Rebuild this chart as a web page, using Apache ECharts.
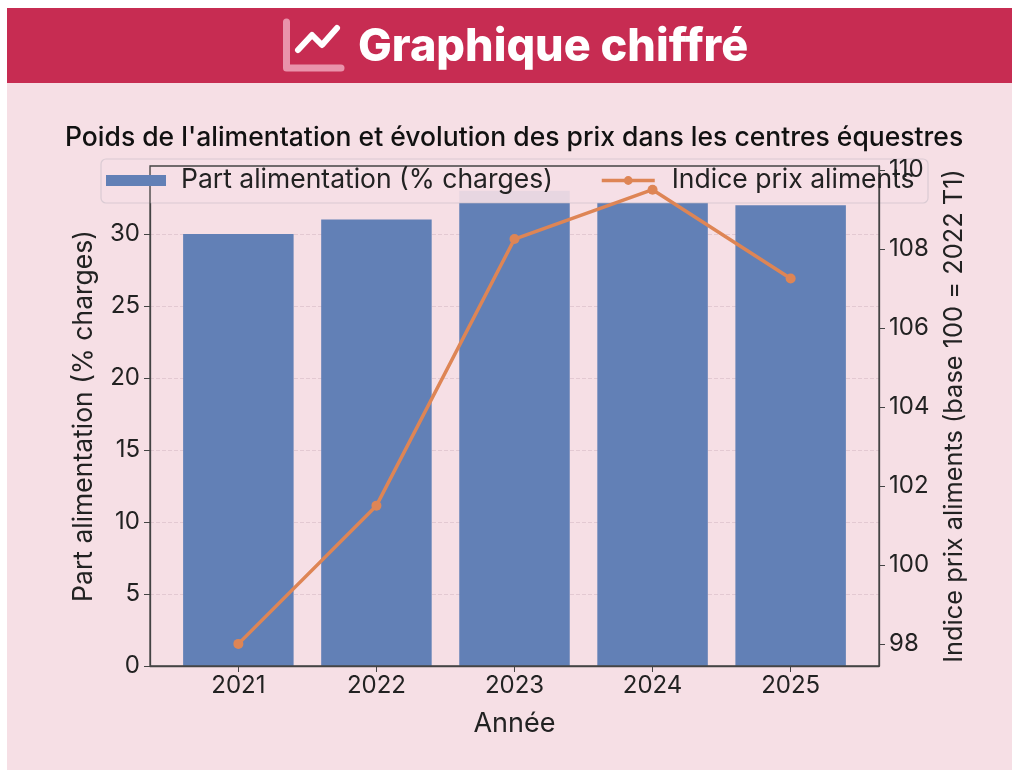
<!DOCTYPE html>
<html><head><meta charset="utf-8">
<style>html,body{margin:0;padding:0;background:#fff}#c{width:1012px;height:772px}</style>
<script src="https://cdn.jsdelivr.net/npm/echarts@6/dist/echarts.min.js"></script>
</head><body><div id="c"></div>
<script>
const years = [2021, 2022, 2023, 2024, 2025];
const partAlimentation = [30, 31, 33, 32.2, 32];
const indicePrix = [98, 101.5, 108.25, 109.5, 107.25];
const leftTicks = [0, 5, 10, 15, 20, 25, 30];
const rightTicks = [98, 100, 102, 104, 106, 108, 110];
const font = 'Inter';
const ink = '#222';
const spine = '#444';
const chart = echarts.init(document.getElementById('c'));
chart.setOption({
  animation: false,
  backgroundColor: '#fff',
  title: [
    {text: 'Graphique chiffré', left: 353, top: 20, textStyle: {fontFamily: font, fontWeight: 800, fontSize: 45, color: '#fff'}, z: 20},
    {text: "Poids de l'alimentation et évolution des prix dans les centres équestres", left: 60, top: 120, textStyle: {fontFamily: font, fontWeight: 500, fontSize: 26.5, color: '#111'}}
  ],
  graphic: [
    {type: 'rect', z: -10, shape: {x: 7, y: 8, width: 1005, height: 762}, style: {fill: '#f6dfe5'}},
    {type: 'rect', z: -9, shape: {x: 7, y: 8, width: 1005, height: 75}, style: {fill: '#c72c52'}},
    {type: 'polyline', z: 10, shape: {points: [[286.5, 22], [286.5, 68], [341, 68]]}, style: {fill: 'none', stroke: '#e993ab', lineWidth: 7, lineCap: 'round', lineJoin: 'round'}},
    {type: 'polyline', z: 10, shape: {points: [[298, 50], [312, 35], [322, 45], [337, 28]]}, style: {fill: 'none', stroke: '#fff', lineWidth: 6, lineCap: 'round', lineJoin: 'round'}},
    {type: 'rect', z: 5, shape: {x: 101, y: 159, width: 827, height: 44, r: 5}, style: {fill: 'rgba(246,223,229,0.9)', stroke: 'rgba(200,190,200,0.6)', lineWidth: 1.2}}
  ],
  grid: {left: 150, top: 166, width: 729, height: 500, show: true, z: 6, borderColor: spine, borderWidth: 1.3, backgroundColor: 'transparent'},
  legend: [
    {data: [{name: 'Part alimentation (% charges)', icon: 'rect'}], left: 106, top: 167, padding: 0, z: 60, itemWidth: 60, itemHeight: 11, textStyle: {fontFamily: font, fontSize: 26.5, color: ink, padding: [0, 0, 0, 10]}, selectedMode: false},
    {data: ['Indice prix aliments'], left: 600, top: 167, padding: 0, z: 60, itemWidth: 53, itemHeight: 11, lineStyle: {width: 3.5}, textStyle: {fontFamily: font, fontSize: 26.5, color: ink, padding: [0, 0, 0, 12]}, selectedMode: false}
  ],
  xAxis: {
    type: 'value', min: 2020.36, max: 2025.64,
    name: 'Année', nameLocation: 'middle', nameGap: 44,
    nameTextStyle: {fontFamily: font, fontSize: 27, color: ink},
    axisLine: {show: true, onZero: false, lineStyle: {color: spine, width: 1.3}},
    axisTick: {show: true, length: 6, lineStyle: {color: spine}, customValues: years},
    axisLabel: {fontFamily: font, fontSize: 24, color: ink, margin: 8, customValues: years, formatter: v => String(v)},
    splitLine: {show: false}
  },
  yAxis: [
    {
      type: 'value', min: 0, max: 34.72, position: 'left',
      name: 'Part alimentation (% charges)', nameLocation: 'middle', nameGap: 52, nameRotate: 90,
      nameTextStyle: {fontFamily: font, fontSize: 26.5, color: ink},
      axisLine: {show: true, lineStyle: {color: spine, width: 1.3}},
      axisTick: {show: true, length: 6, lineStyle: {color: spine}, customValues: leftTicks},
      axisLabel: {fontFamily: font, fontSize: 24, color: ink, margin: 10, customValues: leftTicks, formatter: v => String(v)},
      splitLine: {show: true, lineStyle: {color: '#e3c9d2', type: 'dashed', width: 1}}
    },
    {
      type: 'value', min: 97.44, max: 110.1, position: 'right', z: 6,
      name: 'Indice prix aliments (base 100 = 2022 T1)', nameLocation: 'middle', nameGap: 63, nameRotate: 90,
      nameTextStyle: {fontFamily: font, fontSize: 25.4, color: ink},
      axisLine: {show: true, lineStyle: {color: spine, width: 1.3}},
      axisTick: {show: true, length: 6, lineStyle: {color: spine}, customValues: rightTicks},
      axisLabel: {fontFamily: font, fontSize: 24, color: ink, margin: 10, customValues: rightTicks, formatter: v => String(v)},
      splitLine: {show: false}
    }
  ],
  series: [
    {name: 'Part alimentation (% charges)', type: 'bar', yAxisIndex: 0, barWidth: 110.5, itemStyle: {color: '#6280b6'}, data: years.map((y, i) => [y, partAlimentation[i]]), z: 2},
    {name: 'Indice prix aliments', type: 'line', yAxisIndex: 1, symbol: 'circle', symbolSize: 10, lineStyle: {color: '#de8555', width: 3.5}, itemStyle: {color: '#de8555'}, data: years.map((y, i) => [y, indicePrix[i]]), z: 7}
  ]
});
</script></body></html>
